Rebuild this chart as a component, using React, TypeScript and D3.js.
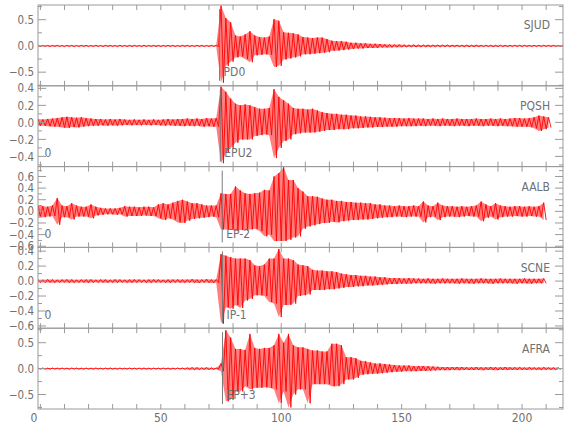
import { useEffect, useRef } from 'react'
import * as d3 from 'd3'

// station names and phase picks (top to bottom)
const stations = ['SJUD', 'PQSH', 'AALB', 'SCNE', 'AFRA']
const phaseLabels = ['PD0', 'EPU2', 'EP-2', 'IP-1', 'EP+3']
const phaseTimes = [74.4, 74.7, 75.5, 75.6, 75.6]
const originLabels = ['', '0', '0', '0', '']

// y ranges and ticks per panel
const yRanges = [[-0.76, 0.78], [-0.52, 0.43], [-0.62, 0.77], [-0.63, 0.45], [-0.78, 0.78]]
const yMajorTicks = [
  [-0.5, 0, 0.5],
  [-0.4, -0.2, 0, 0.2, 0.4],
  [-0.6, -0.4, -0.2, 0, 0.2, 0.4, 0.6],
  [-0.6, -0.4, -0.2, 0, 0.2, 0.4],
  [-0.5, 0, 0.5]
]
const yMinorSteps = [0.25, 0.1, 0.1, 0.1, 0.25]
const xLabels = [0, 50, 100, 150, 200]
const xRange = [-1, 217]

// trace envelopes (max / min per 2 s window), first window starts at -1 s
const startTime = -1
const sampleStep = 2

const sjudHi = [
  0.01, 0.012, 0.01, 0.011, 0.013, 0.01, 0.012, 0.011, 0.01, 0.012,
  0.011, 0.01, 0.012, 0.01, 0.013, 0.011, 0.01, 0.012, 0.01, 0.011,
  0.012, 0.01, 0.011, 0.01, 0.012, 0.011, 0.01, 0.012, 0.011, 0.01,
  0.012, 0.011, 0.01, 0.012, 0.011, 0.01, 0.012, 0.011, 0.77, 0.53,
  0.45, 0.2, 0.18, 0.22, 0.28, 0.2, 0.17, 0.16, 0.18, 0.51,
  0.48, 0.26, 0.25, 0.24, 0.22, 0.17, 0.16, 0.15, 0.16, 0.16,
  0.13, 0.1, 0.09, 0.09, 0.08, 0.06, 0.06, 0.05, 0.05, 0.04,
  0.04, 0.035, 0.03, 0.028, 0.025, 0.025, 0.022, 0.02, 0.022, 0.02,
  0.02, 0.018, 0.02, 0.018, 0.017, 0.018, 0.016, 0.017, 0.015, 0.016,
  0.015, 0.016, 0.014, 0.015, 0.014, 0.013, 0.015, 0.014, 0.013, 0.014,
  0.013, 0.014, 0.012, 0.013, 0.012, 0.013, 0.012, 0.012, 0.012, 0.012
]
const sjudLo = [
  -0.01, -0.011, -0.012, -0.01, -0.011, -0.013, -0.01, -0.012, -0.011, -0.01,
  -0.012, -0.011, -0.01, -0.012, -0.01, -0.011, -0.013, -0.01, -0.012, -0.011,
  -0.01, -0.012, -0.011, -0.01, -0.011, -0.012, -0.01, -0.011, -0.012, -0.011,
  -0.01, -0.012, -0.011, -0.01, -0.012, -0.011, -0.01, -0.012, -0.7, -0.38,
  -0.3, -0.22, -0.2, -0.25, -0.31, -0.18, -0.17, -0.16, -0.17, -0.4,
  -0.38, -0.26, -0.24, -0.22, -0.2, -0.16, -0.16, -0.15, -0.14, -0.13,
  -0.12, -0.09, -0.09, -0.08, -0.07, -0.06, -0.05, -0.05, -0.04, -0.04,
  -0.04, -0.03, -0.03, -0.028, -0.025, -0.024, -0.022, -0.02, -0.02, -0.02,
  -0.018, -0.02, -0.017, -0.018, -0.016, -0.017, -0.016, -0.015, -0.016, -0.015,
  -0.014, -0.015, -0.014, -0.013, -0.015, -0.014, -0.013, -0.014, -0.013, -0.012,
  -0.013, -0.012, -0.013, -0.012, -0.012, -0.011, -0.012, -0.012, -0.011, -0.012
]

const pqshHi = [
  0.04, 0.035, 0.04, 0.045, 0.05, 0.06, 0.065, 0.06, 0.055, 0.06,
  0.05, 0.045, 0.04, 0.04, 0.035, 0.04, 0.035, 0.04, 0.035, 0.03,
  0.035, 0.03, 0.035, 0.03, 0.035, 0.03, 0.035, 0.04, 0.035, 0.04,
  0.04, 0.045, 0.04, 0.045, 0.04, 0.05, 0.045, 0.05, 0.42, 0.36,
  0.28, 0.22, 0.2, 0.21, 0.2, 0.18, 0.16, 0.16, 0.17, 0.39,
  0.3, 0.26, 0.22, 0.17, 0.16, 0.16, 0.15, 0.16, 0.14, 0.12,
  0.11, 0.1, 0.1, 0.09, 0.09, 0.08, 0.08, 0.07, 0.07, 0.065,
  0.06, 0.06, 0.055, 0.05, 0.05, 0.05, 0.045, 0.05, 0.045, 0.045,
  0.045, 0.04, 0.045, 0.04, 0.045, 0.04, 0.04, 0.045, 0.04, 0.04,
  0.04, 0.045, 0.04, 0.04, 0.045, 0.04, 0.045, 0.04, 0.045, 0.05,
  0.05, 0.045, 0.05, 0.06, 0.08, 0.07, 0.06
]
const pqshLo = [
  -0.04, -0.04, -0.045, -0.05, -0.05, -0.06, -0.065, -0.055, -0.06, -0.05,
  -0.045, -0.04, -0.04, -0.035, -0.04, -0.035, -0.04, -0.035, -0.03, -0.035,
  -0.03, -0.035, -0.03, -0.035, -0.03, -0.035, -0.04, -0.035, -0.04, -0.04,
  -0.045, -0.04, -0.045, -0.04, -0.05, -0.045, -0.05, -0.05, -0.48, -0.36,
  -0.3, -0.24, -0.2, -0.2, -0.2, -0.16, -0.15, -0.14, -0.15, -0.42,
  -0.3, -0.22, -0.2, -0.14, -0.13, -0.12, -0.12, -0.12, -0.11, -0.1,
  -0.09, -0.09, -0.08, -0.08, -0.08, -0.07, -0.07, -0.065, -0.06, -0.06,
  -0.055, -0.055, -0.05, -0.05, -0.05, -0.045, -0.045, -0.045, -0.045, -0.04,
  -0.045, -0.04, -0.04, -0.045, -0.04, -0.04, -0.045, -0.04, -0.04, -0.045,
  -0.04, -0.04, -0.045, -0.04, -0.04, -0.045, -0.04, -0.045, -0.045, -0.05,
  -0.05, -0.05, -0.055, -0.07, -0.1, -0.08, -0.06
]

const aalbHi = [
  0.1, 0.09, 0.08, 0.1, 0.23, 0.1, 0.09, 0.14, 0.1, 0.08,
  0.08, 0.12, 0.08, 0.06, 0.05, 0.05, 0.05, 0.06, 0.09, 0.08,
  0.08, 0.07, 0.08, 0.08, 0.07, 0.12, 0.14, 0.12, 0.15, 0.18,
  0.2, 0.17, 0.14, 0.14, 0.12, 0.1, 0.1, 0.1, 0.31, 0.3,
  0.3, 0.43, 0.36, 0.31, 0.3, 0.31, 0.32, 0.37, 0.36, 0.6,
  0.66, 0.76, 0.54, 0.54, 0.4, 0.34, 0.26, 0.26, 0.25, 0.22,
  0.2, 0.2, 0.18, 0.18, 0.16, 0.16, 0.15, 0.15, 0.14, 0.14,
  0.12, 0.12, 0.1, 0.1, 0.09, 0.1, 0.09, 0.09, 0.1, 0.09,
  0.17, 0.1, 0.09, 0.15, 0.1, 0.09, 0.09, 0.08, 0.09, 0.08,
  0.09, 0.1, 0.17, 0.12, 0.09, 0.14, 0.1, 0.09, 0.08, 0.09,
  0.09, 0.08, 0.09, 0.08, 0.09, 0.15
]
const aalbLo = [
  -0.09, -0.1, -0.09, -0.08, -0.23, -0.1, -0.1, -0.14, -0.09, -0.09,
  -0.09, -0.12, -0.07, -0.06, -0.05, -0.05, -0.06, -0.05, -0.09, -0.08,
  -0.08, -0.08, -0.07, -0.08, -0.08, -0.12, -0.15, -0.12, -0.14, -0.19,
  -0.2, -0.16, -0.13, -0.12, -0.11, -0.1, -0.09, -0.1, -0.31, -0.31,
  -0.31, -0.34, -0.32, -0.33, -0.31, -0.3, -0.34, -0.43, -0.4, -0.51,
  -0.51, -0.51, -0.49, -0.45, -0.43, -0.3, -0.26, -0.24, -0.22, -0.2,
  -0.2, -0.18, -0.19, -0.17, -0.16, -0.15, -0.15, -0.14, -0.14, -0.13,
  -0.12, -0.11, -0.1, -0.1, -0.09, -0.09, -0.1, -0.09, -0.09, -0.09,
  -0.19, -0.1, -0.09, -0.15, -0.1, -0.09, -0.09, -0.1, -0.09, -0.08,
  -0.09, -0.09, -0.17, -0.11, -0.09, -0.14, -0.1, -0.09, -0.09, -0.08,
  -0.09, -0.09, -0.08, -0.09, -0.09, -0.15
]

const scneHi = [
  0.02, 0.018, 0.022, 0.02, 0.018, 0.02, 0.022, 0.02, 0.018, 0.02,
  0.02, 0.022, 0.018, 0.02, 0.02, 0.018, 0.022, 0.02, 0.018, 0.02,
  0.022, 0.02, 0.018, 0.02, 0.022, 0.02, 0.018, 0.02, 0.02, 0.022,
  0.02, 0.02, 0.025, 0.02, 0.02, 0.025, 0.02, 0.02, 0.36, 0.34,
  0.32, 0.3, 0.3, 0.3, 0.28, 0.21, 0.2, 0.22, 0.3, 0.3,
  0.43, 0.3, 0.3, 0.28, 0.22, 0.21, 0.2, 0.15, 0.14, 0.14,
  0.13, 0.13, 0.12, 0.1, 0.09, 0.08, 0.08, 0.07, 0.07, 0.06,
  0.06, 0.05, 0.05, 0.04, 0.04, 0.04, 0.035, 0.04, 0.035, 0.035,
  0.03, 0.035, 0.03, 0.03, 0.035, 0.03, 0.03, 0.03, 0.035, 0.03,
  0.03, 0.03, 0.035, 0.03, 0.03, 0.03, 0.035, 0.03, 0.03, 0.03,
  0.03, 0.035, 0.03, 0.03, 0.03, 0.035
]
const scneLo = [
  -0.02, -0.02, -0.018, -0.022, -0.02, -0.018, -0.02, -0.022, -0.02, -0.018,
  -0.022, -0.02, -0.02, -0.018, -0.022, -0.02, -0.02, -0.018, -0.02, -0.022,
  -0.02, -0.018, -0.02, -0.022, -0.02, -0.018, -0.02, -0.022, -0.02, -0.02,
  -0.022, -0.02, -0.02, -0.025, -0.02, -0.02, -0.025, -0.02, -0.57, -0.35,
  -0.37, -0.32, -0.36, -0.26, -0.24, -0.19, -0.19, -0.2, -0.28, -0.3,
  -0.48, -0.32, -0.32, -0.3, -0.2, -0.19, -0.18, -0.12, -0.12, -0.12,
  -0.11, -0.11, -0.1, -0.09, -0.08, -0.08, -0.07, -0.07, -0.06, -0.06,
  -0.055, -0.05, -0.045, -0.04, -0.04, -0.035, -0.035, -0.035, -0.03, -0.03,
  -0.03, -0.03, -0.035, -0.03, -0.03, -0.03, -0.03, -0.035, -0.03, -0.03,
  -0.035, -0.03, -0.03, -0.03, -0.035, -0.03, -0.03, -0.03, -0.03, -0.035,
  -0.03, -0.03, -0.035, -0.03, -0.03, -0.03
]

const afraHi = [
  0.01, 0.012, 0.01, 0.011, 0.01, 0.012, 0.01, 0.011, 0.012, 0.01,
  0.011, 0.01, 0.012, 0.01, 0.011, 0.012, 0.01, 0.011, 0.01, 0.012,
  0.01, 0.011, 0.012, 0.01, 0.011, 0.01, 0.012, 0.011, 0.01, 0.012,
  0.012, 0.015, 0.02, 0.02, 0.015, 0.02, 0.015, 0.012, 0.1, 0.74,
  0.6, 0.38, 0.38, 0.36, 0.67, 0.4, 0.38, 0.4, 0.4, 0.45,
  0.67, 0.5, 0.67, 0.45, 0.41, 0.41, 0.38, 0.35, 0.35, 0.33,
  0.33, 0.48, 0.48, 0.45, 0.22, 0.22, 0.2, 0.15, 0.14, 0.12,
  0.1, 0.1, 0.09, 0.08, 0.07, 0.06, 0.06, 0.06, 0.05, 0.05,
  0.05, 0.045, 0.04, 0.035, 0.03, 0.03, 0.03, 0.03, 0.03, 0.025,
  0.025, 0.03, 0.025, 0.025, 0.03, 0.025, 0.025, 0.03, 0.025, 0.025,
  0.025, 0.02, 0.025, 0.02, 0.02, 0.025, 0.02, 0.02, 0.02
]
const afraLo = [
  -0.01, -0.011, -0.012, -0.01, -0.011, -0.01, -0.012, -0.01, -0.011, -0.012,
  -0.01, -0.011, -0.01, -0.012, -0.01, -0.011, -0.012, -0.01, -0.011, -0.01,
  -0.012, -0.01, -0.011, -0.012, -0.01, -0.011, -0.01, -0.012, -0.011, -0.01,
  -0.012, -0.015, -0.02, -0.02, -0.015, -0.02, -0.015, -0.012, -0.05, -0.63,
  -0.6, -0.44, -0.44, -0.34, -0.4, -0.37, -0.37, -0.36, -0.37, -0.4,
  -0.67, -0.44, -0.75, -0.5, -0.4, -0.4, -0.67, -0.3, -0.3, -0.3,
  -0.3, -0.34, -0.34, -0.3, -0.21, -0.21, -0.18, -0.12, -0.11, -0.1,
  -0.1, -0.09, -0.08, -0.07, -0.06, -0.06, -0.05, -0.05, -0.05, -0.045,
  -0.045, -0.04, -0.035, -0.03, -0.03, -0.03, -0.025, -0.03, -0.025, -0.025,
  -0.025, -0.025, -0.03, -0.025, -0.025, -0.03, -0.025, -0.025, -0.025, -0.025,
  -0.02, -0.025, -0.02, -0.02, -0.025, -0.02, -0.02, -0.02, -0.02
]

const traceHi = [sjudHi, pqshHi, aalbHi, scneHi, afraHi]
const traceLo = [sjudLo, pqshLo, aalbLo, scneLo, afraLo]

const FONT = '"Liberation Sans Narrow", "DejaVu Sans Condensed", sans-serif'
const AXIS = '#9a9a9a'
const TEXT = '#707070'
const RED = '#ff0000'

function App() {
  const svgRef = useRef(null)

  useEffect(() => {
    const width = 580
    const height = 440
    const margin = { top: 5, right: 17, bottom: 31, left: 38 }
    const plotW = width - margin.left - margin.right
    const plotH = height - margin.top - margin.bottom
    const panelH = plotH / stations.length

    const svg = d3.select(svgRef.current)
    svg.selectAll('*').remove()
    svg.attr('width', width).attr('height', height)

    const x = d3.scaleLinear().domain(xRange).range([margin.left, margin.left + plotW])
    const xMinor = d3.range(0, xRange[1], 10)

    stations.forEach((name, p) => {
      const top = margin.top + p * panelH
      const bottom = top + panelH
      const y = d3.scaleLinear().domain(yRanges[p]).range([bottom, top])
      const g = svg.append('g')

      const clipId = `clip-${p}`
      svg.append('clipPath').attr('id', clipId)
        .append('rect')
        .attr('x', margin.left).attr('y', top - 3)
        .attr('width', plotW).attr('height', panelH + 6)

      // trace: max at start of each window, min at its middle
      const hi = traceHi[p]
      const lo = traceLo[p]
      const samples = hi.map((h, i) => ({ t: startTime + i * sampleStep, hi: h, lo: lo[i] }))
      const zig = []
      samples.forEach(s => {
        zig.push([x(s.t), y(s.hi)])
        zig.push([x(s.t + sampleStep / 2), y(s.lo)])
      })
      const traceG = g.append('g').attr('clip-path', `url(#${clipId})`)
      traceG.append('path')
        .datum(samples)
        .attr('fill', RED)
        .attr('fill-opacity', 0.5)
        .attr('d', d3.area().x(d => x(d.t)).y0(d => y(d.lo)).y1(d => y(d.hi)))
      traceG.append('path')
        .datum(zig)
        .attr('fill', 'none')
        .attr('stroke', RED)
        .attr('stroke-width', 0.9)
        .attr('d', d3.line())

      // frame
      g.append('rect')
        .attr('x', margin.left).attr('y', top)
        .attr('width', plotW).attr('height', panelH)
        .attr('fill', 'none').attr('stroke', AXIS).attr('stroke-width', 1)

      // x ticks top and bottom (inward)
      xMinor.forEach(t => {
        g.append('line').attr('x1', x(t)).attr('x2', x(t)).attr('y1', top).attr('y2', top + 5)
          .attr('stroke', AXIS)
        g.append('line').attr('x1', x(t)).attr('x2', x(t)).attr('y1', bottom).attr('y2', bottom - 5)
          .attr('stroke', AXIS)
      })

      // y ticks left and right
      const step = yMinorSteps[p]
      const minor = d3.range(Math.ceil(yRanges[p][0] / step), Math.floor(yRanges[p][1] / step) + 1)
        .map(k => k * step)
      minor.forEach(v => {
        const isMajor = yMajorTicks[p].some(m => Math.abs(m - v) < 1e-6)
        const len = isMajor ? 8 : 4
        g.append('line').attr('x1', margin.left).attr('x2', margin.left + len)
          .attr('y1', y(v)).attr('y2', y(v)).attr('stroke', AXIS)
        g.append('line').attr('x1', margin.left + plotW).attr('x2', margin.left + plotW - len)
          .attr('y1', y(v)).attr('y2', y(v)).attr('stroke', AXIS)
      })

      g.selectAll('.ylab')
        .data(yMajorTicks[p])
        .enter().append('text')
        .attr('x', margin.left - 4)
        .attr('y', d => y(d))
        .attr('dy', '0.36em')
        .attr('text-anchor', 'end')
        .style('font-family', FONT)
        .style('font-size', '11.5px')
        .style('fill', TEXT)
        .text(d => d === 0 ? '0.0' : d3.format('.1f')(d).replace('-', '\u2212'))

      // station name
      g.append('text')
        .attr('x', margin.left + plotW - 13)
        .attr('y', top + 20)
        .attr('dy', '0.36em')
        .attr('text-anchor', 'end')
        .style('font-family', FONT)
        .style('font-size', '12px')
        .style('fill', TEXT)
        .text(name)

      // phase pick
      const px = x(phaseTimes[p])
      g.append('line')
        .attr('x1', px).attr('x2', px)
        .attr('y1', top + 4).attr('y2', bottom - 5)
        .attr('stroke', '#7a7a7a').attr('stroke-width', 1)
      g.append('text')
        .attr('x', px + 4)
        .attr('y', bottom - 14)
        .attr('dy', '0.36em')
        .style('font-family', FONT)
        .style('font-size', '12px')
        .style('fill', TEXT)
        .text(phaseLabels[p])

      if (originLabels[p]) {
        g.append('text')
          .attr('x', x(0) + 4)
          .attr('y', bottom - 14)
          .attr('dy', '0.36em')
          .style('font-family', FONT)
          .style('font-size', '12px')
          .style('fill', TEXT)
          .text(originLabels[p])
      }
    })

    // bottom x labels (the 0 label sits left of its tick)
    svg.selectAll('.xlab')
      .data(xLabels)
      .enter().append('text')
      .attr('x', d => d === 0 ? x(d) - 3 : x(d))
      .attr('y', margin.top + plotH + 9)
      .attr('dy', '0.36em')
      .attr('text-anchor', d => d === 0 ? 'end' : 'middle')
      .style('font-family', FONT)
      .style('font-size', '12px')
      .style('fill', TEXT)
      .text(d => d)
  }, [])

  return (
    <svg ref={svgRef} style={{ position: 'absolute', left: 0, top: 0, display: 'block', background: '#fff' }}></svg>
  )
}

export default App
